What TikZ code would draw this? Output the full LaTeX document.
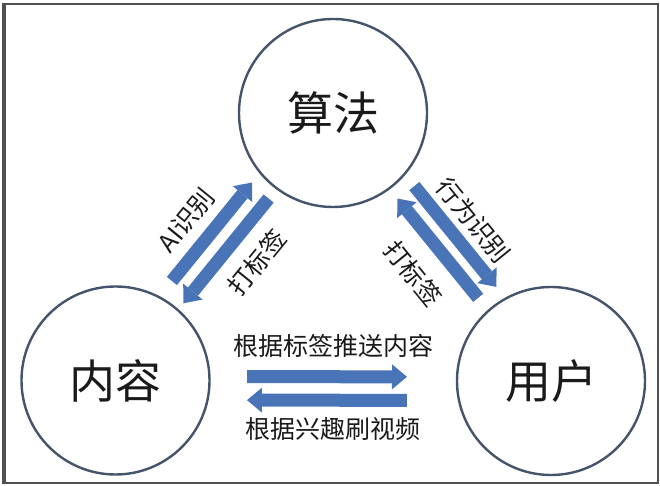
\documentclass[tikz,border=0pt]{standalone}
\usepackage{fontspec}
\newfontfamily\cjk{Noto Sans CJK SC}
\usetikzlibrary{arrows.meta,calc}
\definecolor{ringblue}{HTML}{44546A}
\definecolor{flowblue}{HTML}{4A74B8}
\definecolor{framegray}{HTML}{505050}
\definecolor{textdark}{HTML}{1A1A1A}

\begin{document}
\begin{tikzpicture}[x=1pt,y=1pt,
  hub/.style={circle,draw=ringblue,line width=2.4pt,minimum size=188pt,inner sep=0pt,
              font=\cjk\fontsize{46}{46}\selectfont,text=textdark},
  flow/.style={draw=flowblue,line width=13pt,
               -{Triangle[width=25pt,length=15pt,line width=0pt]}},
  lbl/.style={font=\cjk\fontsize{25}{25}\selectfont,text=textdark,inner sep=0pt}]

\useasboundingbox (0,0) rectangle (660,486);
\draw[framegray,line width=2pt] (4,3) rectangle (658,482);
\draw[framegray,line width=4pt] (4,2) -- (4,483);

\node[hub] (algo) at (333,373) {算法};
\node[hub] (content) at (115.5,105.5) {内容};
\node[hub] (user) at (551,105) {用户};

% algo <-> content
\draw[flow] ($(algo)!232pt!(content)!19pt!-90:(content)$) -- ($(algo)!105pt!(content)!19pt!-90:(content)$);
\draw[flow] ($(algo)!107pt!(content)!4pt!90:(content)$) -- ($(algo)!242pt!(content)!4pt!90:(content)$);
\node[lbl,rotate=50.9] (aiid) at ($(algo)!176pt!(content)!46pt!-90:(content)$) {AI识别};
\node[lbl,rotate=50.9] (tagl) at ($(algo)!164pt!(content)!35pt!90:(content)$) {打标签};

% algo <-> user
\draw[flow] ($(algo)!108pt!(user)!17pt!90:(user)$) -- ($(algo)!238pt!(user)!17pt!90:(user)$);
\draw[flow] ($(algo)!235pt!(user)!4pt!-90:(user)$) -- ($(algo)!107pt!(user)!4pt!-90:(user)$);
\node[lbl,rotate=-50.9] (behav) at ($(algo)!172pt!(user)!41pt!90:(user)$) {行为识别};
\node[lbl,rotate=-50.9] (tagr) at ($(algo)!175pt!(user)!39pt!-90:(user)$) {打标签};

% content <-> user
\draw[flow] ($(content)!131.5pt!(user)!4pt!90:(user)$) -- ($(content)!291.5pt!(user)!4pt!90:(user)$);
\draw[flow] ($(content)!291.5pt!(user)!19.5pt!-90:(user)$) -- ($(content)!131.5pt!(user)!19.5pt!-90:(user)$);
\node[lbl] (push) at ($(content)!0.5!(user)+(0,35)$) {根据标签推送内容};
\node[lbl] (brush) at ($(content)!0.5!(user)+(0,-48)$) {根据兴趣刷视频};

\end{tikzpicture}
\end{document}
